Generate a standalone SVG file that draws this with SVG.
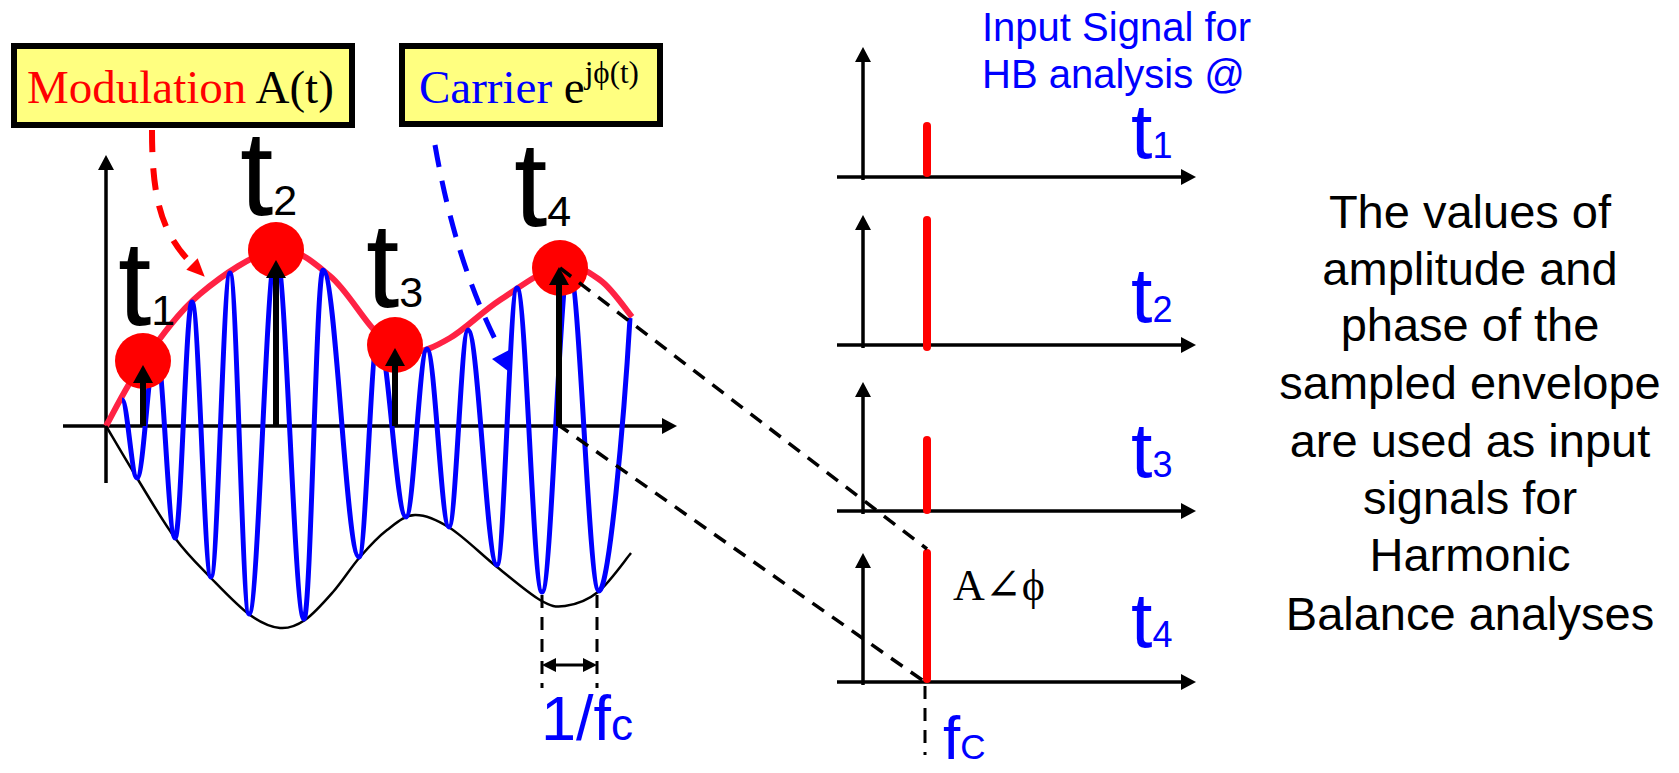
<svg xmlns="http://www.w3.org/2000/svg" width="1679" height="773" viewBox="0 0 1679 773">
<defs>
<style>
.box{fill:#FFFF80;stroke:#000;stroke-width:6}
.serif{font-family:"Liberation Serif","Times New Roman","DejaVu Serif",serif}
.sans{font-family:"Liberation Sans",Arial,"DejaVu Sans",sans-serif}
.axis{stroke:#000;stroke-width:3.5;fill:none}
.samp{stroke:#000;stroke-width:6;fill:none}
.dot{fill:#FF0000}
.bar{stroke:#FF0000;stroke-width:8;stroke-linecap:round}
.proj{stroke:#000;stroke-width:3.5;stroke-dasharray:14 10;fill:none}
.dim{stroke:#000;stroke-width:3;stroke-dasharray:13 9;fill:none}
.tbig{font-size:120px;fill:#000}
.tsub{font-size:43px}
.tr{font-size:77px;fill:#0000FF}
.trs{font-size:36px}
.desc{font-size:47px;fill:#000;text-anchor:middle}
</style>
<marker id="ah" viewBox="0 0 15 16" refX="0" refY="8" markerWidth="15" markerHeight="16" markerUnits="userSpaceOnUse" orient="auto"><path d="M0,0 L15,8 L0,16 z" fill="#000"/></marker>
<marker id="ahs" viewBox="0 0 18 20" refX="0" refY="10" markerWidth="18" markerHeight="20" markerUnits="userSpaceOnUse" orient="auto"><path d="M0,0 L18,10 L0,20 z" fill="#000"/></marker>
<marker id="ahd" viewBox="0 0 14 14" refX="0" refY="7" markerWidth="14" markerHeight="14" markerUnits="userSpaceOnUse" orient="auto"><path d="M0,0 L14,7 L0,14 z" fill="#000"/></marker>
<marker id="ahd2" viewBox="0 0 14 14" refX="0" refY="7" markerWidth="14" markerHeight="14" markerUnits="userSpaceOnUse" orient="auto-start-reverse"><path d="M0,0 L14,7 L0,14 z" fill="#000"/></marker>
<marker id="ahr" viewBox="0 0 18 16" refX="0" refY="8" markerWidth="18" markerHeight="16" markerUnits="userSpaceOnUse" orient="auto"><path d="M0,0 L18,8 L0,16 z" fill="#FF0000"/></marker>
</defs>
<rect width="1679" height="773" fill="#fff"/>

<g id="modulation-box">
<rect class="box" x="14" y="46" width="338" height="79"/>
<text class="serif" x="27" y="103" font-size="47"><tspan fill="#FF0000">Modulation </tspan><tspan fill="#000">A(t)</tspan></text>
</g>

<g id="carrier-box">
<rect class="box" x="402" y="46" width="258" height="78"/>
<text class="serif" x="419" y="103" font-size="47"><tspan fill="#0000FF">Carrier </tspan><tspan fill="#000">e</tspan><tspan fill="#000" font-size="31" dy="-20">jϕ(t)</tspan></text>
</g>

<g id="time-plot">
<line class="axis" x1="106" y1="483" x2="106" y2="170" marker-end="url(#ah)"/>
<line class="axis" x1="63" y1="426" x2="662" y2="426" stroke-width="4" marker-end="url(#ah)"/>
<path id="envelope-upper" d="M106,426 C112.2,415.3 127.3,384 143,362 C158.7,340 177.8,312.7 200,294 C222.2,275.3 254.3,253 276,250 C297.7,247 313.3,262.3 330,276 C346.7,289.7 362.7,319.3 376,332 C389.3,344.7 397.7,351 410,352 C422.3,353 435,346.7 450,338 C465,329.3 481.7,312 500,300 C518.3,288 543.3,269.3 560,266 C576.7,262.7 588,271.5 600,280 C612,288.5 626.7,310.8 632,317" fill="none" stroke="#FF2244" stroke-width="6"/>
<path id="envelope-lower" d="M106,426 C111.2,434.7 125.5,459.3 137,478 C148.5,496.7 162.7,521.3 175,538 C187.3,554.7 198.5,565.2 211,578 C223.5,590.8 238.5,606.7 250,615 C261.5,623.3 270.8,627.2 280,628 C289.2,628.8 296.2,626 305,620 C313.8,614 323.8,602.5 333,592 C342.2,581.5 351,567.3 360,557 C369,546.7 377.8,537 387,530 C396.2,523 404.5,515.3 415,515 C425.5,514.7 436.3,519.3 450,528 C463.7,536.7 482,555 497,567 C512,579 528.7,593.5 540,600 C551.3,606.5 555.3,607.3 565,606 C574.7,604.7 587,600.8 598,592 C609,583.2 625.5,559.5 631,553" fill="none" stroke="#000" stroke-width="2.5"/>
<path id="carrier-wave" d="M122,400 C127.4,400 131.6,478 137,478 C143.8,478 149.2,346 156,346 C162.8,346 168.2,538 175,538 C181.1,538 185.9,302 192,302 C198.8,302 204.2,577 211,577 C217.8,577 223.2,273 230,273 C236.8,273 242.2,614 249,614 C258.7,614 266.3,252 276,252 C286.1,252 293.9,619 304,619 C310.8,619 316.2,270 323,270 C336,270 346,557 359,557 C365.8,557 371.2,336 378,336 C388.1,336 395.9,517 406,517 C413.6,517 419.4,349 427,349 C434.9,349 441.1,527 449,527 C455.8,527 461.2,330 468,330 C478.4,330 486.6,565 497,565 C504.2,565 509.8,288 517,288 C526,288 533,592 542,592 C551.7,592 559.3,268 569,268 C579.8,268 588.2,591 599,591 C609,591 624,420 630,318" fill="none" stroke="#0000FF" stroke-width="5" stroke-linejoin="round"/>
</g>

<g id="sample-t1">
<circle class="dot" cx="143" cy="361" r="28"/>
<line class="samp" x1="143" y1="426" x2="143" y2="383" marker-end="url(#ahs)"/>
<text class="sans tbig" x="118" y="325">t<tspan class="tsub">1</tspan></text>
</g>
<g id="sample-t2">
<circle class="dot" cx="276" cy="250" r="28"/>
<line class="samp" x1="276" y1="426" x2="276" y2="278" marker-end="url(#ahs)"/>
<text class="sans tbig" x="240" y="215">t<tspan class="tsub">2</tspan></text>
</g>
<g id="sample-t3">
<circle class="dot" cx="395" cy="345" r="28"/>
<line class="samp" x1="395" y1="426" x2="395" y2="366" marker-end="url(#ahs)"/>
<text class="sans tbig" x="366" y="307">t<tspan class="tsub">3</tspan></text>
</g>
<g id="sample-t4">
<circle class="dot" cx="560" cy="268" r="28"/>
<line class="samp" x1="559" y1="426" x2="559" y2="285" marker-end="url(#ahs)"/>
<text class="sans tbig" x="514" y="226">t<tspan class="tsub">4</tspan></text>
</g>

<g id="period-marker">
<line class="dim" x1="542" y1="595" x2="542" y2="688"/>
<line class="dim" x1="597" y1="595" x2="597" y2="688"/>
<line x1="556" y1="665" x2="583" y2="665" stroke="#000" stroke-width="3" marker-start="url(#ahd2)" marker-end="url(#ahd)"/>
<text class="sans" x="541" y="740" font-size="63" fill="#0000FF">1/f<tspan font-size="44">c</tspan></text>
</g>

<g id="spectrum-t1">
<line class="axis" x1="863" y1="180" x2="863" y2="62" marker-end="url(#ah)"/>
<line class="axis" x1="837" y1="177" x2="1181" y2="177" marker-end="url(#ah)"/>
<line class="bar" x1="927" y1="126" x2="927" y2="173"/>
<text class="sans tr" x="1131" y="158">t<tspan class="trs">1</tspan></text>
</g>
<g id="spectrum-t2">
<line class="axis" x1="863" y1="348" x2="863" y2="230" marker-end="url(#ah)"/>
<line class="axis" x1="837" y1="345" x2="1181" y2="345" marker-end="url(#ah)"/>
<line class="bar" x1="927" y1="220" x2="927" y2="347"/>
<text class="sans tr" x="1131" y="322">t<tspan class="trs">2</tspan></text>
</g>
<g id="spectrum-t3">
<line class="axis" x1="863" y1="514" x2="863" y2="397" marker-end="url(#ah)"/>
<line class="axis" x1="837" y1="511" x2="1181" y2="511" marker-end="url(#ah)"/>
<line class="bar" x1="927" y1="440" x2="927" y2="510"/>
<text class="sans tr" x="1131" y="477">t<tspan class="trs">3</tspan></text>
</g>
<g id="spectrum-t4">
<line class="axis" x1="863" y1="685" x2="863" y2="568" marker-end="url(#ah)"/>
<line class="axis" x1="837" y1="682" x2="1181" y2="682" marker-end="url(#ah)"/>
<line class="bar" x1="927" y1="553" x2="927" y2="679"/>
<text class="serif" x="953" y="600" font-size="44" fill="#000">A∠ϕ</text>
<text class="sans tr" x="1131" y="647">t<tspan class="trs">4</tspan></text>
<line class="dim" x1="925" y1="686" x2="925" y2="755"/>
<text class="sans" x="943" y="759" font-size="62" fill="#0000FF">f<tspan font-size="35">C</tspan></text>
</g>

<g id="hb-title">
<text class="sans" x="982" y="41" font-size="40" fill="#0000FF">Input Signal for</text>
<text class="sans" x="982" y="88" font-size="40" fill="#0000FF">HB analysis @</text>
</g>

<g id="description">
<text class="sans desc" x="1470" y="228">The values of</text>
<text class="sans desc" x="1470" y="285">amplitude and</text>
<text class="sans desc" x="1470" y="341">phase of the</text>
<text class="sans desc" x="1470" y="399">sampled envelope</text>
<text class="sans desc" x="1470" y="457">are used as input</text>
<text class="sans desc" x="1470" y="514">signals for</text>
<text class="sans desc" x="1470" y="571">Harmonic</text>
<text class="sans desc" x="1470" y="630">Balance analyses</text>
</g>

<g id="connectors">
<path d="M152,130 C152,195 160,232 192,264" fill="none" stroke="#FF0000" stroke-width="6" stroke-dasharray="22 16" marker-end="url(#ahr)"/>
<path d="M435,145 Q455,260 497,343" fill="none" stroke="#0000FF" stroke-width="5" stroke-dasharray="22 14"/>
<polygon points="492,359 511,349 508,371" fill="#0000FF"/>
<line class="proj" x1="560" y1="268" x2="927" y2="549"/>
<line class="proj" x1="557" y1="424" x2="925" y2="682"/>
</g>
</svg>
